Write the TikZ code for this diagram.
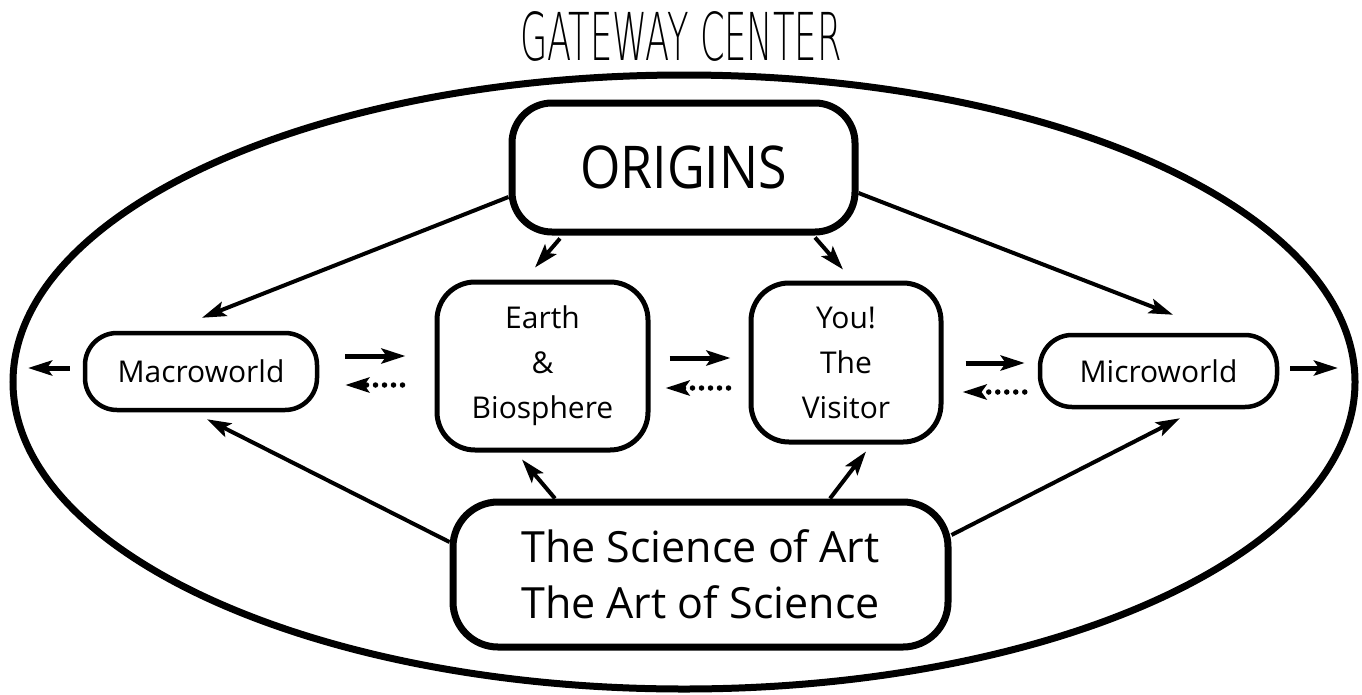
\documentclass[tikz,border=0pt]{standalone}
\usepackage{fontspec}
\setmainfont{Open Sans}
\newfontfamily\titlefont{DejaVu Sans ExtraLight}
\usepackage{graphicx}
\usetikzlibrary{arrows.meta,calc}
\begin{document}
\begin{tikzpicture}[x=1pt,y=-1pt,
  bigbox/.style={draw, line width=7pt, rounded corners=40pt, inner sep=0pt, align=center},
  midbox/.style={draw, line width=5pt, rounded corners=38pt, inner sep=0pt, align=center, font=\fontsize{30}{45}\selectfont},
  pillbox/.style={draw, line width=4.5pt, rounded corners=32pt, inner sep=0pt, font=\fontsize{30}{36}\selectfont},
  arr/.style={line width=4pt, -{Stealth[length=24pt,width=15pt,inset=5pt]}},
  harr/.style={line width=5pt, -{Stealth[length=24pt,width=15pt,inset=5pt]}},
  darr/.style={line width=5.5pt, line cap=round, dash pattern=on 0pt off 9pt, -{Stealth[length=24pt,width=15pt,inset=5pt]}},
]
\useasboundingbox (0,0) rectangle (1362,694);

% title
\node[anchor=base, inner sep=0pt] (title) at (681,60) {\titlefont\fontsize{66}{70}\selectfont\scalebox{0.535}[1]{GATEWAY CENTER}};

% outer ellipse
\draw[line width=7pt] (684,382) ellipse [x radius=671pt, y radius=307pt];

% nodes
\node[bigbox, minimum width=343pt, minimum height=129pt] (origins) at (683.5,167.5)
  {\fontsize{59}{65}\selectfont\scalebox{0.88}[1]{ORIGINS}};
\node[pillbox, minimum width=232pt, minimum height=77pt] (macro) at (201,371.5) {Macroworld};
\node[pillbox, minimum width=237pt, minimum height=72pt] (micro) at (1158.5,371) {Microworld};
\node[midbox, minimum width=211pt, minimum height=168pt] (earth) at (542.5,366) {Earth\\\&\\Biosphere};
\node[midbox, minimum width=190pt, minimum height=159pt] (you) at (846,362.5) {You!\\The\\Visitor};
\node[bigbox, minimum width=495pt, minimum height=145pt, rounded corners=45pt,
      font=\fontsize{43}{56}\selectfont] (science) at (700.5,574.5)
  {The Science of Art\\The Art of Science};

\coordinate (outL) at (28,368);
\coordinate (outR) at (1338,368);

% outward arrows
\draw[harr] ($(macro.west)+(-13,-3.5)$) -- (outL);
\draw[harr] ($(micro.east)+(11,-3)$) -- (outR);

% horizontal pairs
\draw[harr] ($(macro.east)+(26,-15.5)$) -- ($(earth.west)+(-29,-10)$);
\draw[darr] ($(earth.west)+(-32,19)$) -- ($(macro.east)+(26,13.5)$);
\draw[harr] ($(earth.east)+(19,-8)$) -- ($(you.west)+(-18,-4.5)$);
\draw[darr] ($(you.west)+(-20,25.5)$) -- ($(earth.east)+(15,22)$);
\draw[harr] ($(you.east)+(22,0.5)$) -- ($(micro.west)+(-13,-8)$);
\draw[darr] ($(micro.west)+(-13,21)$) -- ($(you.east)+(19,29.5)$);

% from ORIGINS
\draw[arr] ($(origins.west)+(0,29.5)$) -- ($(macro.north)+(1,-13)$);
\draw[arr] ($(origins.east)+(0,25.5)$) -- ($(micro.north)+(14.5,-18)$);
\draw[arr] ($(origins.south)+(-123.5,3)$) -- ($(earth.north)+(-7.5,-12)$);
\draw[arr] ($(origins.south)+(131.5,2)$) -- ($(you.north)+(-3,-11)$);

% from Science of Art
\draw[arr] ($(science.north)+(-145.5,0)$) -- ($(earth.south)+(-20.5,7)$);
\draw[arr] ($(science.north)+(129.5,0)$) -- ($(you.south)+(20,7)$);
\draw[arr] ($(science.west)+(0,-32.5)$) -- ($(macro.south)+(6,7)$);
\draw[arr] ($(science.east)+(0,-39.5)$) -- ($(micro.south)+(21.5,9)$);
\end{tikzpicture}
\end{document}
